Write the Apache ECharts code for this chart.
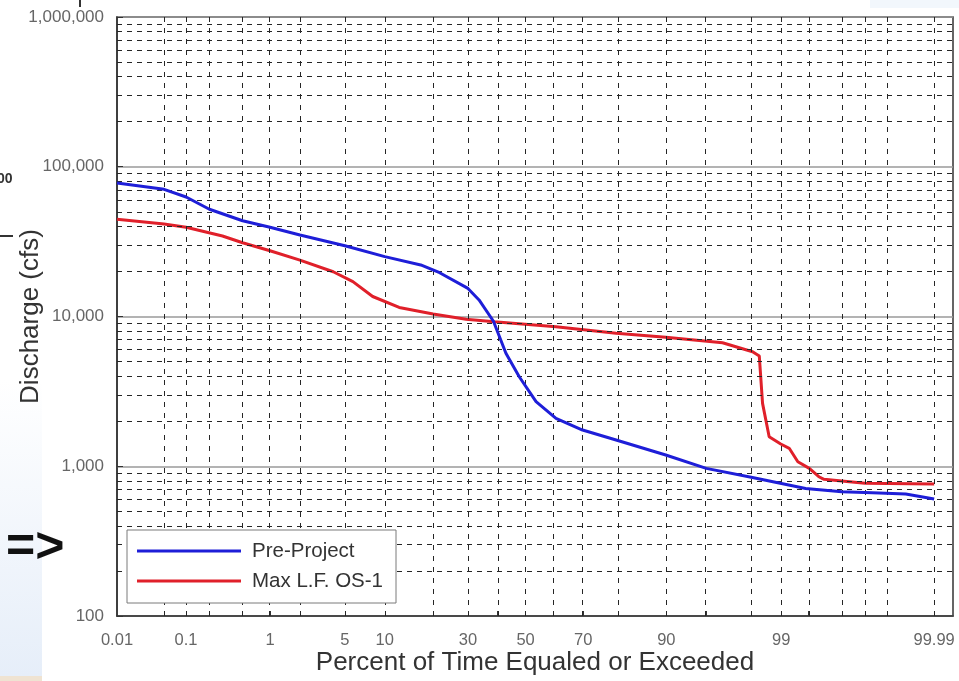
<!DOCTYPE html>
<html>
<head>
<meta charset="utf-8">
<script src="https://cdn.jsdelivr.net/npm/echarts@6/dist/echarts.min.js"></script>
<style>html,body{margin:0;padding:0;background:#fff;}#chart{width:959px;height:681px;}</style>
</head>
<body>
<div id="chart"></div>
<script>
// ---- data (percent of time equaled or exceeded, discharge cfs) ----
const prePct = [0.01, 0.05, 0.1, 0.2, 0.5, 1, 2, 5, 10, 17, 21.7, 30, 33.6, 38.5, 42.9, 47.7, 53.8, 60.9, 69.8, 79.5, 89.9, 95, 98, 99.46, 99.8, 99.92, 99.973, 99.99];
const preVal = [78000, 70700, 62800, 52000, 43600, 39400, 35000, 29700, 25100, 22100, 19600, 15400, 12900, 9300, 5680, 3960, 2700, 2090, 1746, 1497, 1188, 968, 845, 710, 676, 665, 653, 604];
const maxPct = [0.01, 0.05, 0.1, 0.29, 0.5, 1, 2, 4, 5.8, 8.2, 12.5, 20, 29.4, 38.8, 60.9, 79.5, 89.9, 96.35, 98.06, 98.33, 98.45, 98.67, 98.99, 99.18, 99.34, 99.51, 99.62, 99.67, 99.84, 99.9, 99.99];
const maxVal = [44600, 41500, 39400, 34500, 31100, 27500, 23800, 19900, 17100, 13600, 11500, 10400, 9580, 9230, 8550, 7720, 7260, 6680, 5820, 5450, 2630, 1575, 1408, 1318, 1072, 968, 851, 818, 789, 769, 760];
const seriesNames = ['Pre-Project', 'Max L.F. OS-1'];
const xTickLabels = ['0.01', '0.1', '1', '5', '10', '30', '50', '70', '90', '99', '99.99'];
const xGridPct = [0.05, 0.1, 0.2, 0.5, 1, 2, 5, 10, 20, 30, 40, 50, 60, 70, 80, 90, 95, 98, 99, 99.5, 99.8, 99.9, 99.95, 99.99];
const yMinorMult = [2, 3, 4, 5, 6, 7, 8, 9];
const yDecades = [100, 1000, 10000, 100000];

// normal-probability scale transform (inverse normal CDF, Acklam)
function qnorm(p) {
  const a = [-3.969683028665376e+01, 2.209460984245205e+02, -2.759285104469687e+02, 1.383577518672690e+02, -3.066479806614716e+01, 2.506628277459239e+00];
  const b = [-5.447609879822406e+01, 1.615858368580409e+02, -1.556989798598866e+02, 6.680131188771972e+01, -1.328068155288572e+01];
  const c = [-7.784894002430293e-03, -3.223964580411365e-01, -2.400758277161838e+00, -2.549671464609926e+00, 4.374664141464968e+00, 2.938163982698783e+00];
  const d = [7.784695709041462e-03, 3.224671290700398e-01, 2.445134137142996e+00, 3.754408661907416e+00];
  const pl = 0.02425, ph = 1 - pl;
  let q, r;
  if (p < pl) {
    q = Math.sqrt(-2 * Math.log(p));
    return (((((c[0]*q+c[1])*q+c[2])*q+c[3])*q+c[4])*q+c[5]) / ((((d[0]*q+d[1])*q+d[2])*q+d[3])*q+1);
  }
  if (p <= ph) {
    q = p - 0.5; r = q * q;
    return (((((a[0]*r+a[1])*r+a[2])*r+a[3])*r+a[4])*r+a[5])*q / (((((b[0]*r+b[1])*r+b[2])*r+b[3])*r+b[4])*r+1);
  }
  q = Math.sqrt(-2 * Math.log(1 - p));
  return -(((((c[0]*q+c[1])*q+c[2])*q+c[3])*q+c[4])*q+c[5]) / ((((d[0]*q+d[1])*q+d[2])*q+d[3])*q+1);
}
const zp = pct => qnorm(pct / 100);

const labelZ = xTickLabels.map(s => zp(parseFloat(s)));
const gridZ = xGridPct.map(zp);
function labelFor(v) {
  let best = 0, bd = Infinity;
  labelZ.forEach((z, i) => { const dd = Math.abs(z - v); if (dd < bd) { bd = dd; best = i; } });
  return xTickLabels[best];
}
function commas(v) { return String(Math.round(v)).replace(/\B(?=(\d{3})+(?!\d))/g, ','); }

const FONT = 'Liberation Sans, Arial, sans-serif';
const dashed = { color: '#262626', width: 1, type: [5, 5] };
const vdashed = { color: '#262626', width: 1, type: [5, 6] };

const markData = [];
gridZ.forEach(z => markData.push({ xAxis: z, lineStyle: vdashed }));
yDecades.forEach(dec => yMinorMult.forEach(m => markData.push({ yAxis: dec * m, lineStyle: dashed })));

const chart = echarts.init(document.getElementById('chart'), null, { renderer: 'canvas' });
chart.setOption({
  animation: false,
  backgroundColor: '#ffffff',
  textStyle: { fontFamily: FONT },
  grid: { left: 117, top: 17, width: 836, height: 599, containLabel: false, outerBoundsMode: 'none', show: true, borderColor: '#333', borderWidth: 1.5, backgroundColor: 'transparent' },
  xAxis: {
    type: 'value',
    min: zp(0.01),
    max: zp(99.995),
    name: 'Percent of Time Equaled or Exceeded',
    nameLocation: 'middle',
    nameGap: 34,
    nameMoveOverlap: false,
    nameTextStyle: { fontSize: 26, color: '#333', fontFamily: FONT },
    splitLine: { show: false },
    axisLine: { show: true, onZero: false, lineStyle: { color: '#333', width: 1.5 } },
    axisTick: { show: true, inside: true, length: 5, customValues: gridZ, lineStyle: { color: '#333', width: 1 } },
    axisLabel: { customValues: labelZ, formatter: v => labelFor(v), fontSize: 16.5, color: '#666', margin: 16, fontFamily: FONT, showMinLabel: true, showMaxLabel: true }
  },
  yAxis: {
    type: 'log',
    logBase: 10,
    min: 100,
    max: 1000000,
    name: 'Discharge (cfs)',
    nameLocation: 'middle',
    nameGap: 73,
    nameRotate: 90,
    nameMoveOverlap: false,
    nameTextStyle: { fontSize: 26, color: '#333', fontFamily: FONT },
    axisLine: { show: true, onZero: false, lineStyle: { color: '#333', width: 1.5 } },
    axisTick: { show: true, inside: true, length: 6, lineStyle: { color: '#333' } },
    splitLine: { show: true, lineStyle: { color: '#9a9a9a', width: 1.5 } },
    axisLabel: { formatter: v => commas(v), fontSize: 17, color: '#666', margin: 13, fontFamily: FONT }
  },
  legend: {
    data: seriesNames,
    orient: 'vertical',
    left: 127,
    top: 530,
    z: 20,
    icon: 'rect',
    itemWidth: 104,
    itemHeight: 3,
    itemGap: 6,
    padding: [9, 13, 10, 10],
    backgroundColor: '#ffffff',
    borderColor: '#7a7a7a',
    borderWidth: 1,
    borderRadius: 0,
    textStyle: { fontSize: 20.5, color: '#333', fontFamily: FONT, lineHeight: 24, padding: [0, 0, 0, 6] },
    selectedMode: false
  },
  graphic: [
    { type: 'rect', z: -10, shape: { x: 0, y: 380, width: 42, height: 296 }, style: { fill: new echarts.graphic.LinearGradient(0, 0, 0, 1, [{ offset: 0, color: '#ffffff' }, { offset: 1, color: '#e6eef9' }]) } },
    { type: 'rect', z: -10, shape: { x: 0, y: 676, width: 42, height: 5 }, style: { fill: '#efe3d2' } },
    { type: 'rect', z: -10, shape: { x: 870, y: 0, width: 89, height: 8 }, style: { fill: '#f2f7fc' } },
    { type: 'text', x: 6, y: 548, z: 30, style: { text: '=>', fontSize: 50, fontWeight: 'bold', fontFamily: FONT, fill: '#111', align: 'left', verticalAlign: 'middle' } },
    { type: 'text', x: -3, y: 179, z: 30, style: { text: '00', fontSize: 14, fontWeight: 'bold', fontFamily: FONT, fill: '#333', align: 'left', verticalAlign: 'middle' } },
    { type: 'rect', shape: { x: 0, y: 235, width: 13, height: 2 }, style: { fill: '#333' } },
    { type: 'rect', shape: { x: 79, y: 0, width: 2, height: 7 }, style: { fill: '#333' } }
  ],
  series: [
    {
      type: 'line', name: '_grid', data: [], z: 1, silent: true,
      markLine: { silent: true, symbol: ['none', 'none'], label: { show: false }, emphasis: { disabled: true }, animation: false, data: markData }
    },
    {
      type: 'line', name: seriesNames[0], z: 5, showSymbol: false, symbol: 'none', smooth: false,
      color: '#1e1ed8',
      lineStyle: { color: '#1e1ed8', width: 3 },
      data: prePct.map((p, i) => [zp(p), preVal[i]])
    },
    {
      type: 'line', name: seriesNames[1], z: 4, showSymbol: false, symbol: 'none', smooth: false,
      color: '#e0202a',
      lineStyle: { color: '#e0202a', width: 3 },
      data: maxPct.map((p, i) => [zp(p), maxVal[i]])
    }
  ]
});
</script>
</body>
</html>
